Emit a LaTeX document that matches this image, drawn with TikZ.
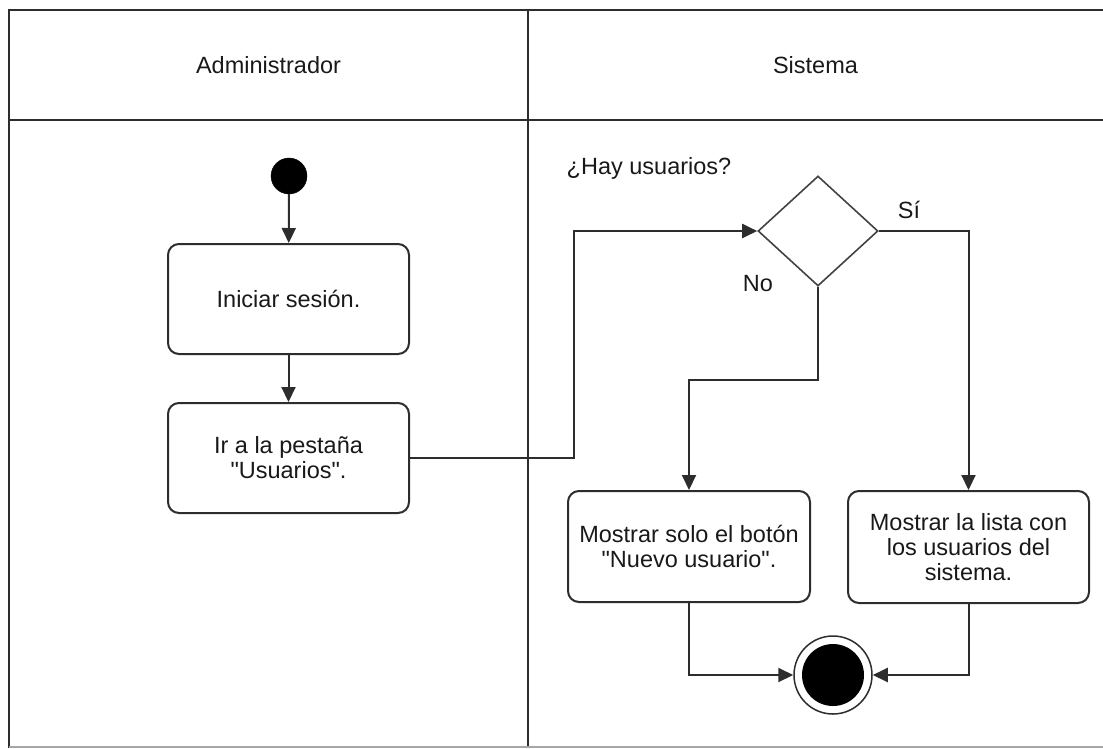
\documentclass[tikz,border=0pt]{standalone}
\usepackage{fontspec}
\setmainfont{Liberation Sans}[Ligatures=TeXOff]
\usetikzlibrary{arrows.meta,shapes.geometric}
\definecolor{ln}{RGB}{45,45,45}
\definecolor{txt}{RGB}{25,25,25}
\tikzset{
  lbl/.style={font=\fontsize{23.5}{25}\selectfont, text=txt, inner sep=0pt},
  act/.style={draw=ln, line width=2pt, rounded corners=11pt, fill=white, minimum width=241pt, minimum height=110pt, align=center, inner sep=2pt, font=\fontsize{23.5}{25}\selectfont, text=txt},
  conn/.style={draw=ln, line width=2pt, -{Triangle[length=15pt,width=14pt]}},
  frameline/.style={draw=ln, line width=2.2pt},
  decision/.style={diamond, draw=ln!90, line width=1.6pt, minimum width=120pt, minimum height=110pt, inner sep=0pt, aspect=1.09},
  startnode/.style={circle, fill=black, draw=black, minimum size=36pt, inner sep=0pt},
  endouter/.style={circle, draw=ln, line width=1.5pt, fill=white, minimum size=78pt, inner sep=0pt},
  endinner/.style={circle, fill=black, minimum size=62pt, inner sep=0pt}
}
\begin{document}
\begin{tikzpicture}[x=1pt,y=-1pt]
\useasboundingbox (0,0) rectangle (1103,748);
% swimlane frame
\draw[frameline] (9,748) -- (9,10) -- (1103,10);
\draw[frameline] (9,120) -- (1103,120);
\draw[frameline] (528,10) -- (528,748);
\draw[draw=black!35, line width=2pt] (9,747) -- (1103,747);
\node[lbl] (h1) at (268.5,65) {Administrador};
\node[lbl] (h2) at (815.5,65) {Sistema};
% nodes
\node[startnode] (s) at (289,176) {};
\node[act] (a1) at (288.5,299) {Iniciar sesión.};
\node[act] (a2) at (288.5,458) {Ir a la pestaña\\ "Usuarios".};
\node[decision] (d) at (818,231) {};
\node[lbl] (q) at (649,168) {¿Hay usuarios?};
\node[lbl] (si) at (909,210) {Sí};
\node[lbl] (no) at (758,284) {No};
\node[act, minimum width=242pt, minimum height=111pt] (a3) at (689,546.5) {Mostrar solo el botón\\ "Nuevo usuario".};
\node[act, minimum width=241pt, minimum height=112pt] (a4) at (968.5,547) {Mostrar la lista con\\ los usuarios del\\ sistema.};
\node[endouter] (e) at (833,675) {};
\node[endinner] (ei) at (833,675) {};
% bend points
\coordinate (b1) at (574,458);
\coordinate (b2) at (818,380);
% connectors
\draw[conn] (s) -- (a1);
\draw[conn] (a1) -- (a2);
\draw[conn] (a2.east) -- (b1) |- (d.west);
\draw[conn] (d.south) -- (b2) -| (a3.north);
\draw[conn] (d.east) -| (a4.north);
\draw[conn] (a3.south) |- (e.west);
\draw[conn] (a4.south) |- (e.east);
\end{tikzpicture}
\end{document}
